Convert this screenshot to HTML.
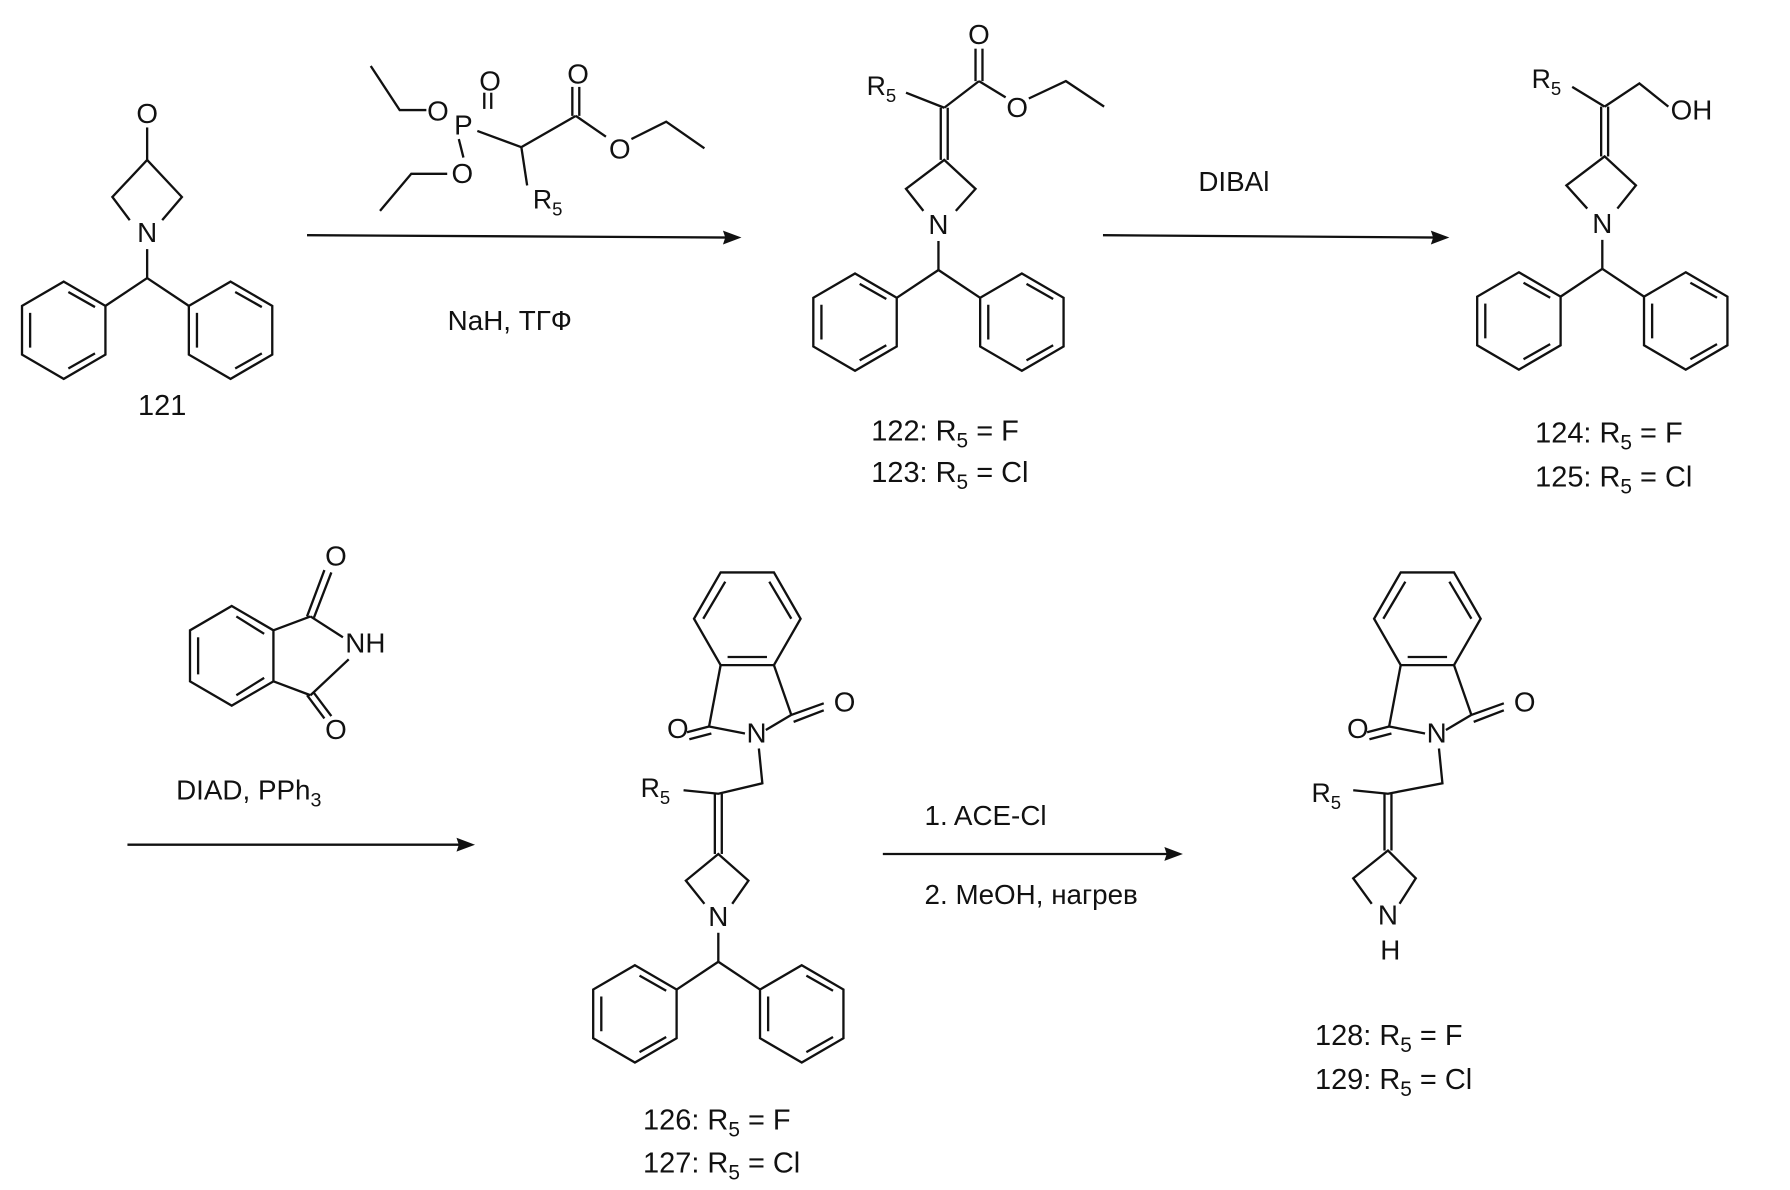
<!DOCTYPE html>
<html><head><meta charset="utf-8"><style>
html,body{margin:0;padding:0;background:#fff;}
svg{display:block;}
text{font-family:"Liberation Sans",sans-serif;fill:#111;}
</style></head><body>
<svg width="1790" height="1190" viewBox="0 0 1545 1027" preserveAspectRatio="none" xmlns="http://www.w3.org/2000/svg">
<defs>
<g id="ph" fill="none" stroke="#111" stroke-width="2">
<polygon points="0,-42 36,-21 36,21 0,42 -36,21 -36,-21"/>
<line x1="-29" y1="-15" x2="-29" y2="15"/>
<line x1="4" y1="33" x2="27" y2="20"/>
<line x1="4" y1="-33" x2="27" y2="-20"/>
</g>
<g id="bh">
<text x="0" y="9" font-size="24" text-anchor="middle">N</text>
<line x1="0" y1="15" x2="0" y2="40" stroke="#111" stroke-width="2"/>
<line x1="0" y1="40" x2="-36" y2="64" stroke="#111" stroke-width="2"/>
<line x1="0" y1="40" x2="36" y2="64" stroke="#111" stroke-width="2"/>
<use href="#ph" x="-72" y="85"/>
<use href="#ph" x="72" y="85"/>
</g>
<g id="phth" fill="none" stroke="#111" stroke-width="2">
<polygon points="46,0 23,40 -23,40 -46,0 -23,-40 23,-40"/>
<line x1="-17" y1="33" x2="17" y2="33"/>
<line x1="-38" y1="0" x2="-19" y2="-32"/>
<line x1="38" y1="0" x2="19" y2="-32"/>
<line x1="-23" y1="40" x2="-33" y2="93"/>
<line x1="23" y1="40" x2="38" y2="83"/>
<line x1="-33" y1="93" x2="-2" y2="99"/>
<line x1="38" y1="83" x2="16" y2="96"/>
<line x1="-33" y1="93" x2="-52" y2="98"/>
<line x1="-31" y1="99" x2="-50" y2="104"/>
<line x1="38" y1="83" x2="66" y2="73"/>
<line x1="40" y1="89" x2="66" y2="79"/>
</g>
</defs>
<g stroke="#111" stroke-width="2" fill="none">
<line x1="127" y1="110" x2="127" y2="138"/>
<polyline points="112,190 97,170 127,138 157,170 140,190"/>
<polyline points="320,57 345,95 368,95"/>
<polyline points="328,182 355,150 386,150"/>
<line x1="400" y1="136" x2="396" y2="120"/>
<line x1="418" y1="80" x2="418" y2="94"/><line x1="424" y1="80" x2="424" y2="94"/>
<line x1="412" y1="113" x2="450" y2="127"/>
<line x1="450" y1="127" x2="455" y2="160"/>
<line x1="450" y1="127" x2="497" y2="100"/>
<line x1="494" y1="100" x2="494" y2="75"/><line x1="500" y1="100" x2="500" y2="75"/>
<line x1="497" y1="100" x2="523" y2="118"/>
<polyline points="545,120 575,105 608,128"/>
<line x1="265" y1="203" x2="632" y2="205"/>
<line x1="952" y1="203" x2="1243" y2="205"/>
<line x1="110" y1="729" x2="402" y2="729"/>
<line x1="762" y1="737" x2="1013" y2="737"/>
</g>
<g fill="#111">
<polygon points="640,205 624,199 626,205 624,211"/>
<polygon points="1251,205 1235,199 1237,205 1235,211"/>
<polygon points="410,729 394,723 396,729 394,735"/>
<polygon points="1021,737 1005,731 1007,737 1005,743"/>
</g>
<text x="127" y="106" font-size="24" text-anchor="middle">O</text>
<use href="#bh" x="127" y="200"/>
<text x="140" y="358" font-size="25" text-anchor="middle">121</text>
<text x="423" y="78" font-size="24" text-anchor="middle">O</text>
<text x="400" y="116" font-size="24" text-anchor="middle">P</text>
<text x="378" y="104" font-size="24" text-anchor="middle">O</text>
<text x="399" y="158" font-size="24" text-anchor="middle">O</text>
<text x="499" y="72" font-size="24" text-anchor="middle">O</text>
<text x="535" y="137" font-size="24" text-anchor="middle">O</text>
<text x="460" y="180" font-size="23">R<tspan font-size="16" dy="6">5</tspan></text>
<text x="440" y="285" font-size="24" text-anchor="middle">NaH, ТГФ</text>
<g stroke="#111" stroke-width="2" fill="none">
<line x1="782" y1="80" x2="815" y2="93"/>
<line x1="815" y1="93" x2="845" y2="70"/>
<line x1="842" y1="70" x2="842" y2="42"/><line x1="848" y1="70" x2="848" y2="42"/>
<line x1="845" y1="70" x2="868" y2="84"/>
<polyline points="888,85 920,70 953,92"/>
<line x1="812" y1="93" x2="812" y2="138"/><line x1="818" y1="93" x2="818" y2="138"/>
<polyline points="797,182 782,163 815,138 842,163 825,182"/>
</g>
<text x="845" y="38" font-size="24" text-anchor="middle">O</text>
<text x="878" y="101" font-size="24" text-anchor="middle">O</text>
<text x="748" y="82" font-size="23">R<tspan font-size="16" dy="6">5</tspan></text>
<use href="#bh" x="810" y="193"/>
<text x="752" y="380" font-size="25">122: R<tspan font-size="18" dy="6">5</tspan><tspan dy="-6"> = F</tspan></text>
<text x="752" y="416" font-size="25">123: R<tspan font-size="18" dy="6">5</tspan><tspan dy="-6"> = Cl</tspan></text>
<text x="1065" y="165" font-size="24" text-anchor="middle">DIBAl</text>
<g stroke="#111" stroke-width="2" fill="none">
<line x1="1357" y1="75" x2="1385" y2="92"/>
<polyline points="1385,92 1415,72 1440,92"/>
<line x1="1382" y1="92" x2="1382" y2="135"/><line x1="1388" y1="92" x2="1388" y2="135"/>
<polyline points="1370,180 1352,160 1385,135 1412,160 1396,180"/>
</g>
<text x="1322" y="76" font-size="23">R<tspan font-size="16" dy="6">5</tspan></text>
<text x="1442" y="103" font-size="24">OH</text>
<use href="#bh" x="1383" y="192"/>
<text x="1325" y="382" font-size="25">124: R<tspan font-size="18" dy="6">5</tspan><tspan dy="-6"> = F</tspan></text>
<text x="1325" y="420" font-size="25">125: R<tspan font-size="18" dy="6">5</tspan><tspan dy="-6"> = Cl</tspan></text>
<g stroke="#111" stroke-width="2" fill="none">
<polygon points="200,523 236,544 236,588 200,609 164,588 164,544"/>
<line x1="171" y1="550" x2="171" y2="582"/>
<line x1="204" y1="532" x2="228" y2="547"/>
<line x1="204" y1="600" x2="228" y2="585"/>
<line x1="236" y1="544" x2="268" y2="532"/>
<line x1="236" y1="588" x2="268" y2="600"/>
<line x1="268" y1="532" x2="296" y2="550"/>
<line x1="268" y1="600" x2="301" y2="569"/>
<line x1="265" y1="532" x2="280" y2="492"/><line x1="271" y1="533" x2="286" y2="494"/>
<line x1="265" y1="600" x2="280" y2="620"/><line x1="271" y1="598" x2="286" y2="618"/>
</g>
<text x="290" y="488" font-size="24" text-anchor="middle">O</text>
<text x="290" y="638" font-size="24" text-anchor="middle">O</text>
<text x="298" y="563" font-size="24">NH</text>
<text x="152" y="690" font-size="24">DIAD, PPh<tspan font-size="17" dy="6">3</tspan></text>
<use href="#phth" x="645" y="534"/>
<text x="653" y="641" font-size="24" text-anchor="middle">N</text>
<text x="585" y="637" font-size="24" text-anchor="middle">O</text>
<text x="729" y="614" font-size="24" text-anchor="middle">O</text>
<g stroke="#111" stroke-width="2" fill="none">
<polyline points="655,646 658,676 620,685 590,682"/>
<line x1="617" y1="685" x2="617" y2="737"/><line x1="623" y1="685" x2="623" y2="737"/>
<polyline points="608,780 592,760 620,737 646,760 632,780"/>
</g>
<text x="553" y="688" font-size="23">R<tspan font-size="16" dy="6">5</tspan></text>
<use href="#bh" x="620" y="790"/>
<text x="555" y="975" font-size="25">126: R<tspan font-size="18" dy="6">5</tspan><tspan dy="-6"> = F</tspan></text>
<text x="555" y="1012" font-size="25">127: R<tspan font-size="18" dy="6">5</tspan><tspan dy="-6"> = Cl</tspan></text>
<text x="798" y="712" font-size="24">1. ACE-Cl</text>
<text x="798" y="780" font-size="24">2. MeOH, нагрев</text>
<use href="#phth" x="1232" y="534"/>
<text x="1240" y="641" font-size="24" text-anchor="middle">N</text>
<text x="1172" y="637" font-size="24" text-anchor="middle">O</text>
<text x="1316" y="614" font-size="24" text-anchor="middle">O</text>
<g stroke="#111" stroke-width="2" fill="none">
<polyline points="1242,646 1245,676 1198,685 1168,682"/>
<line x1="1195" y1="685" x2="1195" y2="734"/><line x1="1201" y1="685" x2="1201" y2="734"/>
<polyline points="1184,780 1168,758 1198,734 1222,758 1208,780"/>
</g>
<text x="1132" y="692" font-size="23">R<tspan font-size="16" dy="6">5</tspan></text>
<text x="1198" y="798" font-size="24" text-anchor="middle">N</text>
<text x="1200" y="828" font-size="24" text-anchor="middle">H</text>
<text x="1135" y="902" font-size="25">128: R<tspan font-size="18" dy="6">5</tspan><tspan dy="-6"> = F</tspan></text>
<text x="1135" y="940" font-size="25">129: R<tspan font-size="18" dy="6">5</tspan><tspan dy="-6"> = Cl</tspan></text>
</svg>
</body></html>
